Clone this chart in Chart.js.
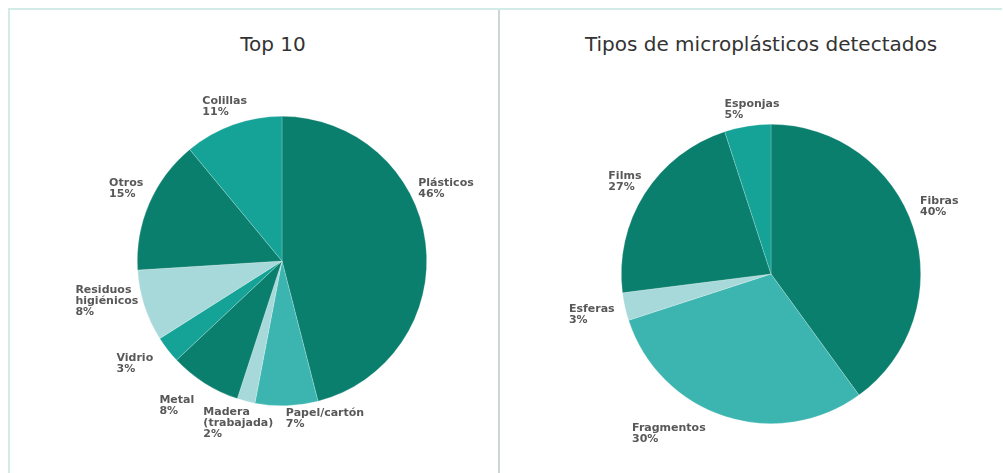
<!DOCTYPE html>
<html>
<head>
<meta charset="utf-8">
<script src="https://cdn.jsdelivr.net/npm/chart.js@4/dist/chart.umd.min.js"></script>
<style>
  html, body { margin: 0; padding: 0; background: #ffffff; }
  body { width: 1003px; height: 473px; overflow: hidden; position: relative; font-family: "DejaVu Sans", Verdana, sans-serif; }
  #frame {
    position: absolute; left: 8px; top: 8px; width: 994px; height: 470px;
    border-top: 2px solid #d3ebe6; border-left: 2px solid #d3ebe6;
    box-sizing: border-box;
  }
  #divider { position: absolute; left: 498px; top: 10px; width: 2px; height: 463px; background: #cdd6d5; }
  .title {
    position: absolute; top: 32px; margin: 0; font-size: 20px; font-weight: normal;
    color: #333333; text-align: center; white-space: nowrap; line-height: 24px;
  }
  #t1 { left: 10px; width: 526px; }
  #t2 { left: 501px; width: 520px; }
  canvas { position: absolute; }
  #c1 { left: 10px; top: 10px; }
  #c2 { left: 501px; top: 10px; }
</style>
</head>
<body>
<div id="frame"></div>
<div id="divider"></div>
<h2 class="title" id="t1">Top 10</h2>
<h2 class="title" id="t2">Tipos de microplásticos detectados</h2>
<canvas id="c1" width="488" height="460"></canvas>
<canvas id="c2" width="499" height="460"></canvas>
<script>
// --- data: Top 10 residuos
const topCategories = ['Plásticos', 'Papel/cartón', 'Madera\n(trabajada)', 'Metal', 'Vidrio', 'Residuos\nhigiénicos', 'Otros', 'Colillas'];
const topValues = [46, 7, 2, 8, 3, 8, 15, 11];
const topLabels = ['46%', '7%', '2%', '8%', '3%', '8%', '15%', '11%'];

// --- data: tipos de microplásticos
const microCategories = ['Fibras', 'Fragmentos', 'Esferas', 'Films', 'Esponjas'];
const microValues = [40, 30, 3, 22, 5];
const microLabels = ['40%', '30%', '3%', '27%', '5%'];

const DARK = '#0b7f6e';
const MID = '#15a397';
const SOFT = '#3cb5b1';
const LIGHT = '#a7d9da';

// draws "name\nxx%" next to each slice, outside the pie
const outsideLabels = {
    id: 'outsideLabels',
    afterDatasetsDraw(chart, args, opts) {
        const ctx = chart.ctx;
        const meta = chart.getDatasetMeta(0);
        const texts = opts.texts || [];
        const nudge = opts.nudge || {};
        const lineH = 11;
        ctx.save();
        ctx.font = 'bold 11px "DejaVu Sans", Verdana, sans-serif';
        ctx.fillStyle = '#585858';
        ctx.textAlign = 'left';
        ctx.textBaseline = 'middle';
        meta.data.forEach(function(arc, i) {
            const p = arc.getProps(['x', 'y', 'startAngle', 'endAngle', 'outerRadius'], true);
            const mid = (p.startAngle + p.endAngle) / 2;
            const cos = Math.cos(mid), sin = Math.sin(mid);
            const lines = String(chart.data.labels[i]).split('\n').concat([texts[i]]);
            const w = Math.max.apply(null, lines.map(l => ctx.measureText(l).width));
            const h = lines.length * lineH;
            const r = p.outerRadius + 8;
            let cx = p.x + cos * r + cos * w / 2;
            let cy = p.y + sin * r + sin * h / 2;
            // small hand shifts so labels sit where the original put them
            if (nudge[i]) { cx += nudge[i][0]; cy += nudge[i][1]; }
            const left = cx - w / 2;
            const top = cy - h / 2;
            lines.forEach(function(line, k) {
                ctx.fillText(line, left, top + lineH / 2 + k * lineH);
            });
        });
        ctx.restore();
    }
};

function makePie(canvasId, labels, values, colors, texts, padding, nudge) {
    return new Chart(document.getElementById(canvasId), {
        type: 'pie',
        data: {
            labels: labels,
            datasets: [{
                data: values,
                backgroundColor: colors,
                borderColor: 'rgba(255,255,255,0.35)',
                borderWidth: 0.6
            }]
        },
        options: {
            responsive: false,
            animation: false,
            layout: { padding: padding },
            plugins: {
                legend: { display: false },
                tooltip: { enabled: false },
                title: { display: false },
                outsideLabels: { texts: texts, nudge: nudge }
            }
        },
        plugins: [outsideLabels]
    });
}

makePie('c1', topCategories, topValues,
    [DARK, SOFT, LIGHT, DARK, MID, LIGHT, DARK, MID],
    topLabels,
    { left: 127, right: 71, top: 106, bottom: 64 },
    { 0: [-15, -52], 1: [37, -6], 2: [3, -2], 3: [-14, 6], 4: [-12, 2], 5: [0, -12], 6: [0, -7], 7: [2, 0] });

makePie('c2', microCategories, microValues,
    [DARK, SOFT, LIGHT, DARK, MID],
    microLabels,
    { left: 120, right: 79, top: 114, bottom: 46 },
    { 0: [0, -15], 1: [-42, -1], 2: [-3, 4], 3: [1, -2], 4: [10, 2] });
</script>
</body>
</html>
